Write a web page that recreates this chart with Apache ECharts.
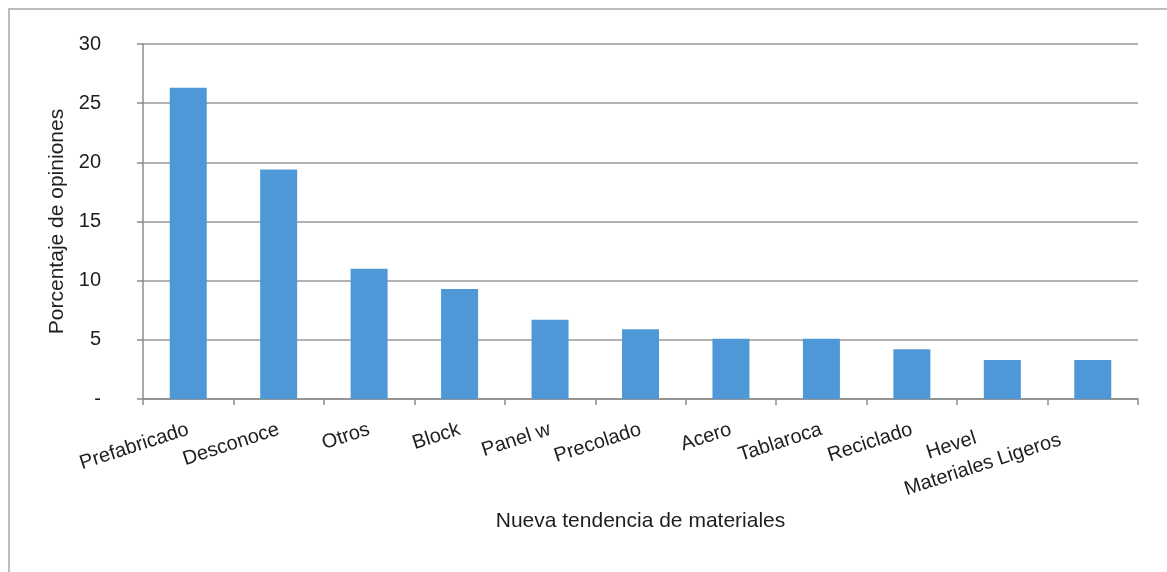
<!DOCTYPE html>
<html>
<head>
<meta charset="utf-8">
<script src="https://cdn.jsdelivr.net/npm/echarts@6/dist/echarts.min.js"></script>
<style>
  html, body { margin: 0; padding: 0; background: #fff; }
  #chart { width: 1167px; height: 572px; }
</style>
</head>
<body>
<div id="chart"></div>
<script>
// Nueva tendencia de materiales: porcentaje de opiniones por material
const categories = ['Prefabricado', 'Desconoce', 'Otros', 'Block', 'Panel w', 'Precolado', 'Acero', 'Tablaroca', 'Reciclado', 'Hevel', 'Materiales Ligeros'];
const porcentajes = [26.3, 19.4, 11.0, 9.3, 6.7, 5.9, 5.1, 5.1, 4.2, 3.3, 3.3];
const yTicks = [0, 5, 10, 15, 20, 25, 30];

const FONT = '"Liberation Sans", Arial, sans-serif';
const chart = echarts.init(document.getElementById('chart'));

// the two last labels sit a little further left
const labelShift = { 'Hevel': 28, 'Materiales Ligeros': 34 };
const xData = categories.map(c => labelShift[c]
  ? { value: c, textStyle: { padding: [0, labelShift[c], 0, 0] } }
  : c);

chart.setOption({
  animation: false,
  backgroundColor: '#fff',
  graphic: [{
    type: 'rect',
    shape: { x: 9, y: 9, width: 1200, height: 620 },
    style: { fill: 'none', stroke: '#bdbdbd', lineWidth: 2 },
    silent: true
  }],
  grid: { left: 143, right: 29, top: 44, bottom: 173, containLabel: false },
  xAxis: {
    type: 'category',
    data: xData,
    name: 'Nueva tendencia de materiales',
    nameLocation: 'middle',
    nameGap: 112,
    nameTextStyle: { fontFamily: FONT, fontSize: 21, color: '#1e1e1e' },
    axisLine: { lineStyle: { color: '#8c8c8c', width: 1.5 } },
    axisTick: { show: true, alignWithLabel: false, length: 6, lineStyle: { color: '#8c8c8c', width: 1.5 } },
    axisLabel: {
      rotate: 18,
      interval: 0,
      margin: 30,
      fontFamily: FONT,
      fontSize: 20,
      color: '#1e1e1e'
    }
  },
  yAxis: {
    type: 'value',
    min: yTicks[0],
    max: yTicks[yTicks.length - 1],
    interval: 5,
    name: 'Porcentaje de opiniones',
    nameLocation: 'middle',
    nameGap: 71,
    nameRotate: 90,
    nameTextStyle: { fontFamily: FONT, fontSize: 21, color: '#1e1e1e' },
    axisLine: { show: true, lineStyle: { color: '#8c8c8c', width: 1.5 } },
    axisTick: { show: true, length: 6, lineStyle: { color: '#8c8c8c', width: 1.5 } },
    splitLine: { show: true, lineStyle: { color: '#999999', width: 1.6 } },
    axisLabel: {
      margin: 42,
      align: 'right',
      fontFamily: FONT,
      fontSize: 20,
      color: '#1e1e1e',
      formatter: v => (v === 0 ? '-' : String(v))
    }
  },
  series: [{
    type: 'bar',
    data: porcentajes,
    barWidth: 37,
    itemStyle: { color: '#4e98d8' }
  }]
});
</script>
</body>
</html>
